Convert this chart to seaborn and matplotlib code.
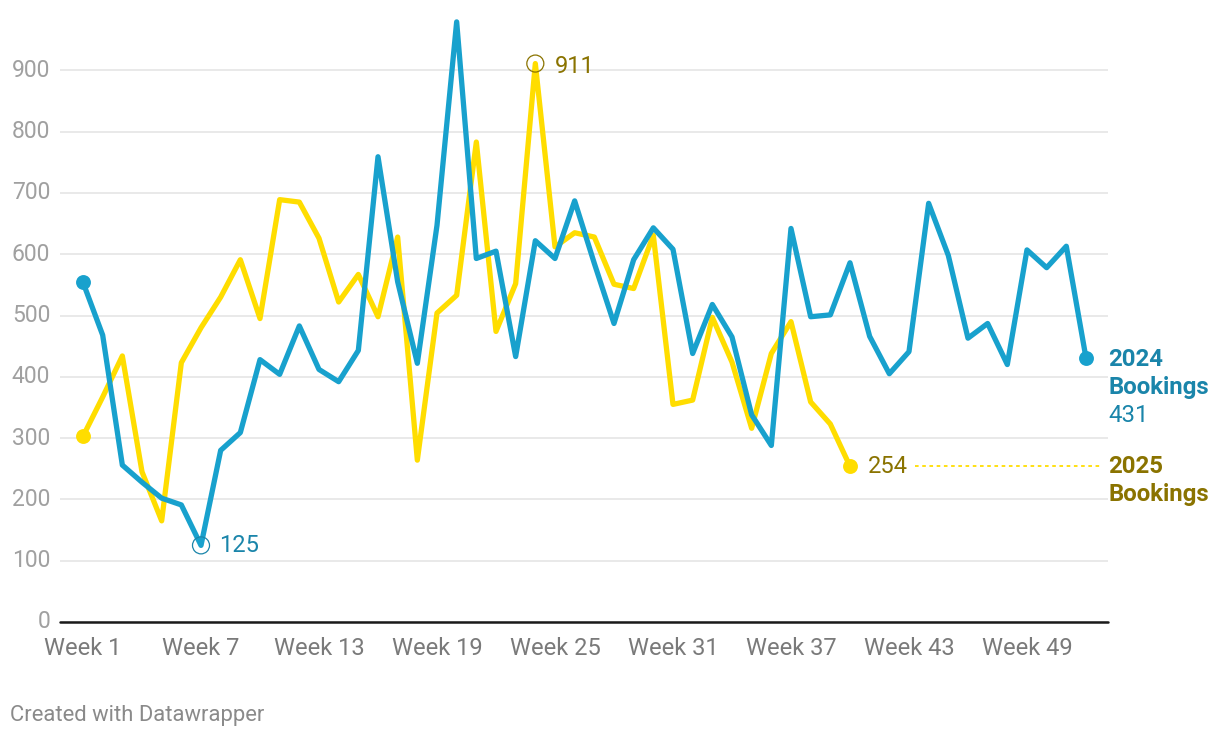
import matplotlib
matplotlib.use("Agg")
import matplotlib.pyplot as plt
import matplotlib.transforms as mtransforms
import pandas as pd
import seaborn as sns

# Weekly bookings
bookings_2024 = [554, 468, 256, 228, 202, 191, 125, 280, 309, 428,
                 404, 483, 412, 392, 443, 759, 555, 422, 647, 979,
                 593, 605, 433, 622, 593, 687, 585, 487, 591, 643,
                 608, 438, 518, 465, 338, 288, 642, 498, 501, 586,
                 466, 405, 441, 683, 598, 463, 487, 420, 607, 578,
                 613, 431]
bookings_2025 = [303, 367, 434, 245, 165, 423, 480, 530, 591, 495,
                 689, 685, 626, 522, 567, 498, 628, 264, 504, 533,
                 783, 474, 552, 911, 612, 635, 628, 551, 544, 631,
                 355, 362, 497, 424, 316, 438, 490, 359, 323, 254]
week_ticks = [1, 7, 13, 19, 25, 31, 37, 43, 49]
y_ticks = [0, 100, 200, 300, 400, 500, 600, 700, 800, 900]

BLUE = "#18a1cd"
BLUE_TXT = "#1a85aa"
YELLOW = "#ffdd00"
OLIVE = "#8a7300"

df = pd.concat([
    pd.DataFrame({"week": range(1, len(bookings_2024) + 1),
                  "bookings": bookings_2024, "series": "2024"}),
    pd.DataFrame({"week": range(1, len(bookings_2025) + 1),
                  "bookings": bookings_2025, "series": "2025"}),
])

sns.set_style("white")
plt.rcParams["font.family"] = ["Roboto", "DejaVu Sans"]

fig = plt.figure(figsize=(12.2, 7.38), dpi=100)
ax = fig.add_axes([60 / 1220, 1 - 622 / 738, 1048 / 1220, 613 / 738])

sns.lineplot(data=df, x="week", y="bookings", hue="series",
             hue_order=["2025", "2024"],
             palette={"2024": BLUE, "2025": YELLOW},
             linewidth=3.8, legend=False, ax=ax, zorder=3)

ax.set_xlim(-0.17, 53.12)
ax.set_ylim(0, 1000)
ax.set_xticks(week_ticks)
ax.set_xticklabels([f"Week {w}" for w in week_ticks])
ax.set_yticks(y_ticks)
ax.set_xlabel("")
ax.set_ylabel("")
for s in ax.spines.values():
    s.set_visible(False)
ax.grid(axis="y", color="#e3e3e3", linewidth=1.1)
ax.grid(axis="x", visible=False)
ax.axhline(0, color="#1a1a1a", linewidth=1.8, zorder=4, clip_on=False)
ax.tick_params(axis="y", length=0, pad=7, labelsize=16.5, labelcolor="#a0a0a0")
ax.tick_params(axis="x", length=0, pad=11, labelsize=17, labelcolor="#7a7a7a")
for lab in ax.get_yticklabels():
    lab.set_verticalalignment("center")

# end dots
w24 = list(range(1, len(bookings_2024) + 1))
w25 = list(range(1, len(bookings_2025) + 1))
ax.scatter([w24[0], w24[-1]], [bookings_2024[0], bookings_2024[-1]],
           s=115, color=BLUE, zorder=5, linewidths=0)
ax.scatter([w25[0], w25[-1]], [bookings_2025[0], bookings_2025[-1]],
           s=115, color=YELLOW, zorder=5, linewidths=0)

# min / max highlights
i_min = bookings_2024.index(min(bookings_2024))
i_max = bookings_2025.index(max(bookings_2025))
ax.scatter([w24[i_min]], [bookings_2024[i_min]], s=150, facecolors="none",
           edgecolors=BLUE_TXT, linewidths=0.9, zorder=6)
ax.scatter([w25[i_max]], [bookings_2025[i_max]], s=150, facecolors="none",
           edgecolors=OLIVE, linewidths=0.9, zorder=6)
ax.annotate(str(bookings_2024[i_min]), (w24[i_min], bookings_2024[i_min]),
            xytext=(13, 0), textcoords="offset points", va="center",
            ha="left", fontsize=17, color=BLUE_TXT)
ax.annotate(str(bookings_2025[i_max]), (w25[i_max], bookings_2025[i_max]),
            xytext=(14, -2), textcoords="offset points", va="center",
            ha="left", fontsize=17, color=OLIVE)
ax.annotate(str(bookings_2025[-1]), (w25[-1], bookings_2025[-1]),
            xytext=(13, 0), textcoords="offset points", va="center",
            ha="left", fontsize=17, color=OLIVE)

# series labels at right
tr = mtransforms.blended_transform_factory(ax.transAxes, ax.transData)
ax.plot([0.816, 0.992], [bookings_2025[-1]] * 2, transform=tr,
        color=YELLOW, linewidth=1.3, linestyle=(0, (2, 2)), clip_on=False)
for i, (txt, w) in enumerate([("2024", "bold"), ("Bookings", "bold"),
                              (str(bookings_2024[-1]), "normal")]):
    ax.annotate(txt, (1.0, bookings_2024[-1]), xycoords=tr,
                xytext=(0, -1.2 - 20.2 * i), textcoords="offset points",
                va="center", ha="left", fontsize=17.3, fontweight=w,
                color=BLUE_TXT, annotation_clip=False)
for i, txt in enumerate(["2025", "Bookings"]):
    ax.annotate(txt, (1.0, bookings_2025[-1]), xycoords=tr,
                xytext=(0, -20.2 * i), textcoords="offset points",
                va="center", ha="left", fontsize=17.3, fontweight="bold",
                color=OLIVE, annotation_clip=False)

fig.text(10 / 1220, 1 - 716 / 738, "Created with Datawrapper",
         fontsize=15.8, color="#8a8a8a", va="center", ha="left")

fig.savefig("out.png", dpi=100)
